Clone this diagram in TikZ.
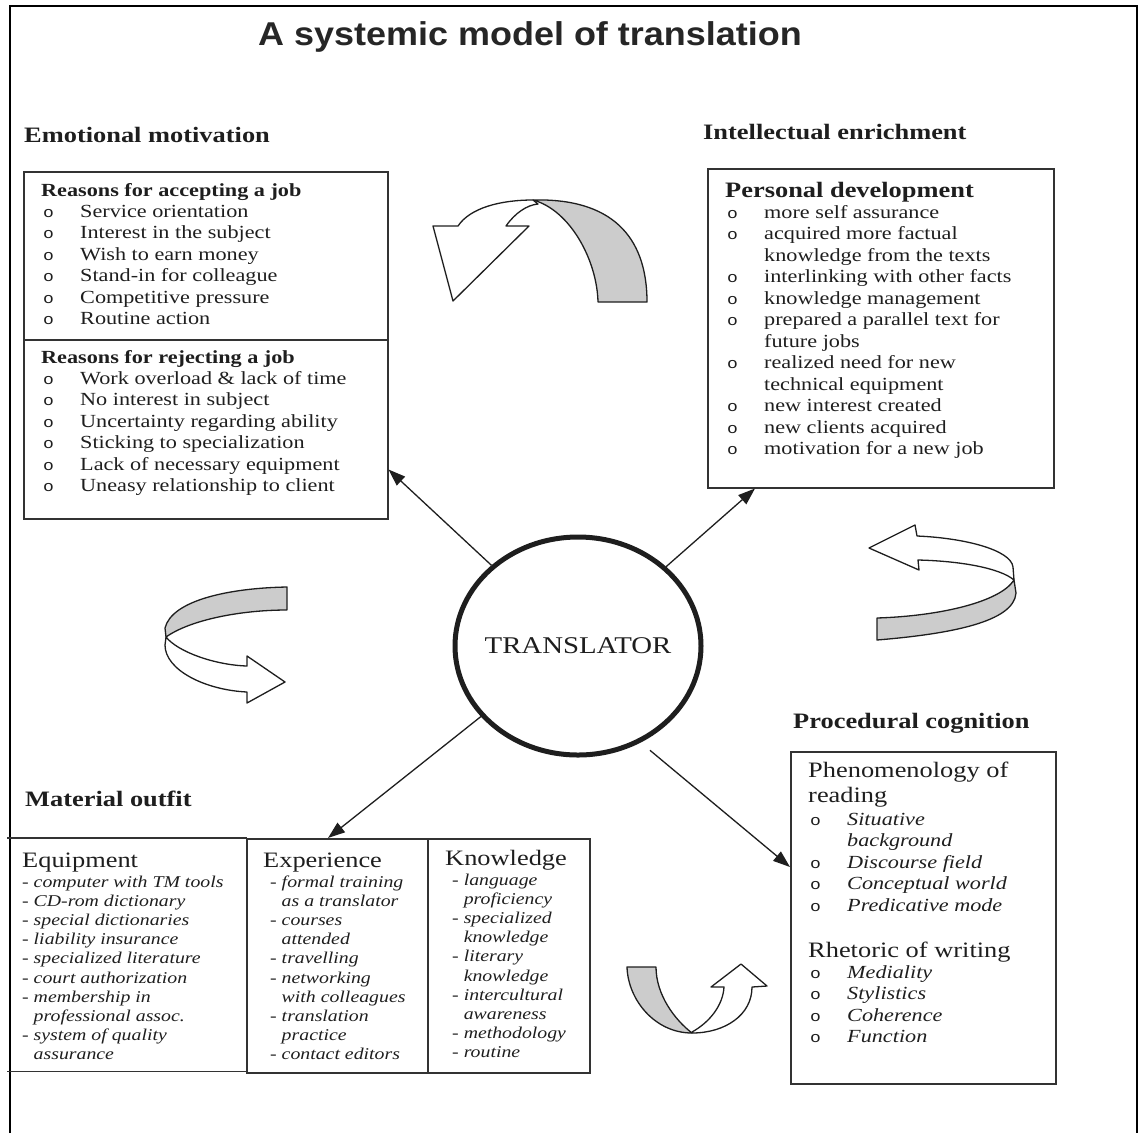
\documentclass[tikz,border=0pt]{standalone}
\usepackage{fontspec}
\setmainfont{Liberation Serif}[FakeStretch=1.2]
\newfontfamily\titlefont{Liberation Sans}[FakeStretch=1.09]
\newfontfamily\bulfont{Liberation Mono}[FakeStretch=1.2]
\usetikzlibrary{arrows.meta,shapes.geometric,calc}

% list helpers: bullet column, continuation indent, stacked rows
\newcommand\bu{\makebox[39pt][l]{\hspace{2pt}{\upshape\bulfont\fontsize{15}{15}\selectfont o}}}
\newcommand\cn{\hspace*{39pt}}
\newcommand\dcn{\hphantom{- }}
\newcommand\rows[1]{\begin{tabular}[t]{@{}l@{}}#1\end{tabular}}

\definecolor{ink}{HTML}{1E1E1E}
\definecolor{rule}{HTML}{333333}

\tikzset{
  frame/.style={line width=2.6pt, draw=black},
  box/.style={draw=rule, line width=1.5pt, inner sep=0pt, anchor=north west},
  sect/.style={anchor=base west, inner sep=0pt, text=ink, font=\fontsize{22}{25}\selectfont\bfseries},
  subhead/.style={anchor=base west, inner sep=0pt, text=ink, font=\fontsize{22}{25}\selectfont},
  body/.style={anchor=base west, inner sep=0pt, text=ink, font=\fontsize{18.5}{21.4}\selectfont},
  bodyit/.style={anchor=base west, inner sep=0pt, text=ink, font=\fontsize{18.5}{21.5}\selectfont\itshape},
  small/.style={anchor=base west, inner sep=0pt, text=ink, font=\fontsize{16.5}{19.2}\selectfont\itshape},
  conn/.style={draw=ink, line width=1.3pt, -{Triangle[length=17pt,width=12pt]}},
  ribW/.style={draw=ink, line width=1.3pt, fill=white, line join=round},
  ribG/.style={draw=ink, line width=1.3pt, fill=black!20, line join=round},
}

\begin{document}
\begin{tikzpicture}[x=1pt,y=-1pt]
\useasboundingbox (0,0) rectangle (1142,1133);

% page frame (open at the bottom)
\draw[frame] (10,1133) -- (10,6) -- (1137,6) -- (1137,1133);

% title
\node[anchor=base west, inner sep=0pt, text=black!85] (title) at (258,45)
  {\titlefont\fontsize{33}{36}\selectfont\bfseries A systemic model of translation};

% ---------------- Emotional motivation ----------------
\node[sect] (emohead) at (24,142) {Emotional motivation};
\node[box, minimum width=364pt, minimum height=168pt] (emoA) at (23,171) {};
\node[box, minimum width=364pt, minimum height=179pt] (emoB) at (23,339) {};
\node[body] (emoAtxt) at (41,196) {\rows{%
  \textbf{Reasons for accepting a job}\\
  \bu Service orientation\\
  \bu Interest in the subject\\
  \bu Wish to earn money\\
  \bu Stand-in for colleague\\
  \bu Competitive pressure\\
  \bu Routine action}};
\node[body] (emoBtxt) at (41,363) {\rows{%
  \textbf{Reasons for rejecting a job}\\
  \bu Work overload \& lack of time\\
  \bu No interest in subject\\
  \bu Uncertainty regarding ability\\
  \bu Sticking to specialization\\
  \bu Lack of necessary equipment\\
  \bu Uneasy relationship to client}};

% ---------------- Intellectual enrichment ----------------
\node[sect] (inthead) at (703,139) {Intellectual enrichment};
\node[box, minimum width=346pt, minimum height=319pt] (dev) at (707,168) {};
\node[sect] (devhead) at (725,197) {Personal development};
\node[body, font=\fontsize{18.5}{21.5}\selectfont] (devtxt) at (725,218) {\rows{%
  \bu more self assurance\\
  \bu acquired more factual\\
  \cn knowledge from the texts\\
  \bu interlinking with other facts\\
  \bu knowledge management\\
  \bu prepared a parallel text for\\
  \cn future jobs\\
  \bu realized need for new\\
  \cn technical equipment\\
  \bu new interest created\\
  \bu new clients acquired\\
  \bu motivation for a new job}};

% ---------------- Procedural cognition ----------------
\node[sect] (prochead) at (793,728) {Procedural cognition};
\node[box, minimum width=265pt, minimum height=332pt] (proc) at (790,751) {};
\node[subhead] (phenhead) at (808,777) {\rows{Phenomenology of\\reading}};
\node[bodyit] (phentxt) at (808,825) {\rows{%
  \bu Situative\\
  \cn background\\
  \bu Discourse field\\
  \bu Conceptual world\\
  \bu Predicative mode}};
\node[subhead] (rhethead) at (808,957) {Rhetoric of writing};
\node[bodyit] (rhettxt) at (808,978) {\rows{%
  \bu Mediality\\
  \bu Stylistics\\
  \bu Coherence\\
  \bu Function}};

% ---------------- Material outfit ----------------
\node[sect] (mathead) at (25,806) {Material outfit};
\node[inner sep=0pt, anchor=north west, minimum width=239pt, minimum height=233pt] (equip) at (7,838) {};
\draw[draw=rule, line width=1.5pt] (equip.north west) -- (equip.north east) -- (equip.south east) -- (equip.south west);
\node[box, minimum width=181pt, minimum height=234pt] (exper) at (246,838) {};
\node[box, minimum width=162pt, minimum height=234pt] (know) at (427,838) {};

\node[subhead] (equiphead) at (22,867) {Equipment};
\node[small] (equiptxt) at (22,887) {\rows{%
  - computer with TM tools\\
  - CD-rom dictionary\\
  - special dictionaries\\
  - liability insurance\\
  - specialized literature\\
  - court authorization\\
  - membership in\\
  \dcn professional assoc.\\
  - system of quality\\
  \dcn assurance}};

\node[subhead] (experhead) at (263,867) {Experience};
\node[small] (expertxt) at (270,887) {\rows{%
  - formal training\\
  \dcn as a translator\\
  - courses\\
  \dcn attended\\
  - travelling\\
  - networking\\
  \dcn with colleagues\\
  - translation\\
  \dcn practice\\
  - contact editors}};

\node[subhead] (knowhead) at (445,865) {Knowledge};
\node[small] (knowtxt) at (452,885) {\rows{%
  - language\\
  \dcn proficiency\\
  - specialized\\
  \dcn knowledge\\
  - literary\\
  \dcn knowledge\\
  - intercultural\\
  \dcn awareness\\
  - methodology\\
  - routine}};

% ---------------- centre ----------------
\node[ellipse, draw=ink, line width=5pt, minimum width=246pt, minimum height=218pt,
      inner sep=0pt] (tr) at (578,646) {};
\node[inner sep=0pt, text=ink, font=\fontsize{24}{28}\selectfont] (trtext) at (tr.center) {TRANSLATOR};

\draw[conn] (tr.137) -- ($(emoB.south east)+(0,-50)$);
\draw[conn] (tr.42) -- ($(dev.south west)+(48,0)$);
\draw[conn] (tr.216) -- ($(exper.north west)+(82,0)$);
\draw[conn, shorten <=12pt] (tr.-57) -- ($(proc.north west)+(0,116)$);

% ---------------- twisted ribbon arrows ----------------
% top: sweeping from right to left, head pointing down-left
\path[ribG] (647,302) .. controls (647,235) and (610,198) .. (533,200)
  .. controls (570,210) and (597,260) .. (598,302) -- cycle;
\path[ribW] (533,200) .. controls (500,200) and (470,208) .. (458,226)
  -- (433,226) -- (453,301) -- (529,226) -- (506,226)
  .. controls (515,213) and (527,205) .. (538,204) -- cycle;

% right: head pointing left
\path[ribW] (917,536) .. controls (965,538) and (1011,550) .. (1013,567) -- (1014,580)
  .. controls (1000,568) and (960,561) .. (918,560) -- (919,570) -- (869,548) -- (915,525) -- cycle;
\path[ribG] (1014,580) -- (1016,593) .. controls (1014,622) and (950,634) .. (877,640)
  -- (877,618) .. controls (940,616) and (1000,602) .. (1014,580) -- cycle;

% left: head pointing right
\path[ribG] (287,587) .. controls (230,588) and (172,600) .. (165,628) -- (166,637)
  .. controls (190,620) and (240,610) .. (287,610) -- cycle;
\path[ribW] (166,637) .. controls (178,652) and (215,665) .. (247,666) -- (247,656) -- (285,682)
  -- (247,703) -- (247,692) .. controls (205,690) and (165,670) .. (165,645) -- cycle;

% bottom: head pointing up
\path[ribG] (627,967) .. controls (628,1000) and (655,1033) .. (692,1033)
  .. controls (675,1020) and (656,995) .. (656,967) -- cycle;
\path[ribW] (692,1033) .. controls (725,1033) and (752,1015) .. (752,987) -- (767,986) -- (741,964)
  -- (711,987) -- (724,987) .. controls (723,1005) and (710,1022) .. (692,1032) -- cycle;

\end{tikzpicture}
\end{document}
